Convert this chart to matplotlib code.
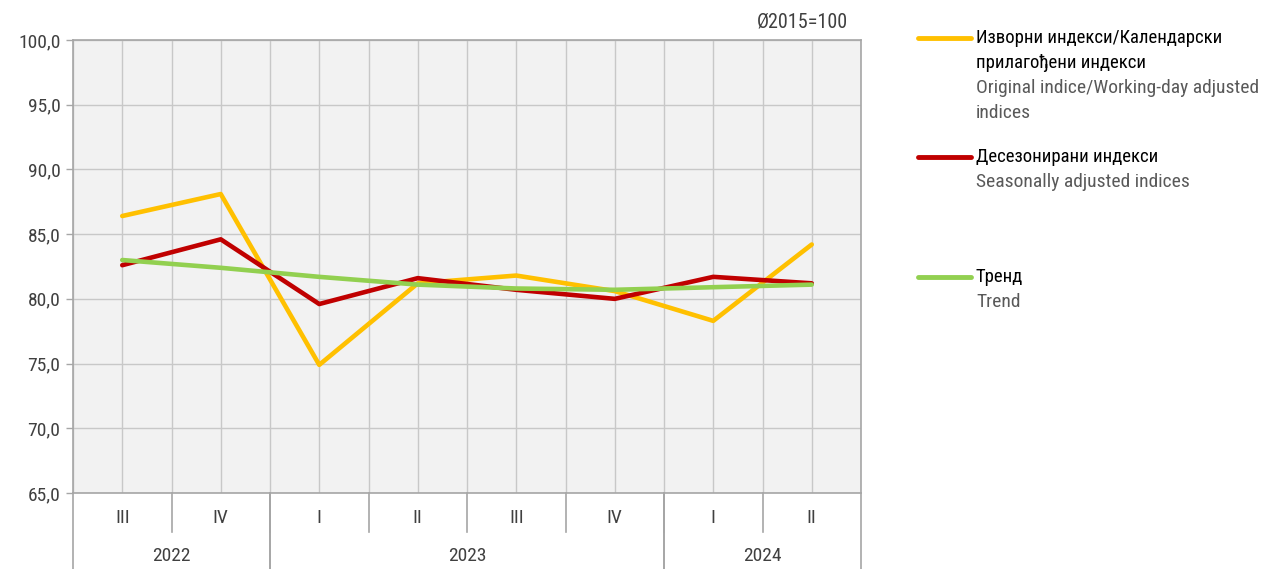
import matplotlib
matplotlib.use("Agg")
import matplotlib.pyplot as plt
from matplotlib import font_manager
from matplotlib.lines import Line2D
from matplotlib.transforms import blended_transform_factory

# Data
quarters = ["III", "IV", "I", "II", "III", "IV", "I", "II"]
years = ["2022", "2023", "2024"]
year_spans = [(0, 1), (2, 5), (6, 7)]
original = [86.4, 88.1, 74.9, 81.2, 81.8, 80.6, 78.3, 84.2]
seasonal = [82.6, 84.6, 79.6, 81.6, 80.7, 80.0, 81.7, 81.2]
trend = [83.0, 82.4, 81.7, 81.1, 80.8, 80.7, 80.9, 81.1]
yticks = [65, 70, 75, 80, 85, 90, 95, 100]

names = {f.name for f in font_manager.fontManager.ttflist}
font = "Liberation Sans"
for cand in ["Liberation Sans Narrow", "Roboto Condensed", "Liberation Sans"]:
    if cand in names:
        font = cand
        break
plt.rcParams["font.family"] = [font, "DejaVu Sans"]

W, H = 1264, 569
fig = plt.figure(figsize=(W / 100, H / 100), dpi=100)
left, right, top, bottom = 73, 861, 40, 493
ax = fig.add_axes([left / W, 1 - bottom / H, (right - left) / W, (bottom - top) / H])
ax.set_facecolor("#f2f2f2")

x = list(range(len(quarters)))
ax.plot(x, original, color="#FFC000", lw=3.3, solid_capstyle="round", zorder=3)
ax.plot(x, seasonal, color="#C00000", lw=3.3, solid_capstyle="round", zorder=4)
ax.plot(x, trend, color="#92D050", lw=3.3, solid_capstyle="round", zorder=5)

ax.set_xlim(-0.5, len(quarters) - 0.5)
ax.set_ylim(65, 100)
ax.set_yticks(yticks)
ax.set_yticklabels([f"{v:.1f}".replace(".", ",") for v in yticks])
ax.tick_params(axis="y", length=5, width=1, color="#a6a6a6", labelsize=14,
               labelcolor="#404040", pad=4)
ax.set_xticks([])

# grid
for v in yticks:
    ax.axhline(v, color="#c8c8c8", lw=1, zorder=1)
for i in range(2 * len(quarters) + 1):
    ax.axvline(-0.5 + i * 0.5, color="#c8c8c8", lw=1, zorder=1)
for s in ax.spines.values():
    s.set_color("#a6a6a6")
    s.set_linewidth(1.2)

# multi level category axis
tr = blended_transform_factory(ax.transData, ax.transAxes)
ph = bottom - top
for i, q in enumerate(quarters):
    ax.text(i, -25 / ph, q, transform=tr, ha="center", va="center",
            fontsize=14, color="#404040")
for i in range(len(quarters) - 1):
    ax.plot([i + 0.5, i + 0.5], [0, -39 / ph], transform=tr, color="#a6a6a6",
            lw=1.2, clip_on=False)
for (a, b), yr in zip(year_spans, years):
    ax.text((a + b) / 2, -63 / ph, yr, transform=tr, ha="center", va="center",
            fontsize=14, color="#404040")
    for edge in (a - 0.5, b + 0.5):
        ax.plot([edge, edge], [0, -(H - top) / ph], transform=tr,
                color="#a6a6a6", lw=1.2, clip_on=False)

fig.text(848 / W, 1 - 22 / H, "Ø2015=100", ha="right", va="center",
         fontsize=14.5, color="#404040")

# legend
legend = [
    ("#FFC000", 38, ["Изворни индекси/Календарски", "прилагођени индекси"],
     ["Original indice/Working-day adjusted", "indices"]),
    ("#C00000", 157, ["Десезонирани индекси"], ["Seasonally adjusted indices"]),
    ("#92D050", 277, ["Тренд"], ["Trend"]),
]
for color, y0, bold, light in legend:
    fig.add_artist(Line2D([918 / W, 971 / W], [1 - y0 / H, 1 - y0 / H],
                          transform=fig.transFigure, color=color, lw=3.5,
                          solid_capstyle="round"))
    y = y0
    for t in bold:
        fig.text(976 / W, 1 - y / H, t, ha="left", va="center", fontsize=13.5,
                 color="black")
        y += 25
    for t in light:
        fig.text(976 / W, 1 - y / H, t, ha="left", va="center", fontsize=14,
                 color="#595959")
        y += 25

fig.savefig("out.png", dpi=100)
